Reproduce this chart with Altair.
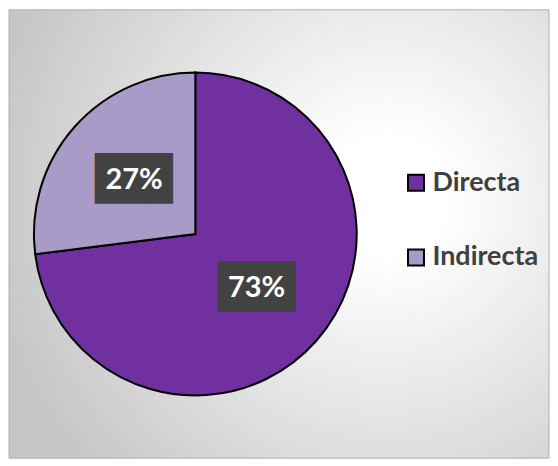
import altair as alt
import pandas as pd

categories = ["Directa", "Indirecta"]
values = [73, 27]
labels = ["73%", "27%"]
order = [0, 1]
colors = ["#7030A0", "#A99BC7"]

df = pd.DataFrame({"cat": categories, "value": values, "label": labels, "ord": order})

W, H = 542, 450
CX, CY = 187, 225

gradient = alt.RadialGradient(
    gradient="radial",
    stops=[alt.GradientStop(color="#ffffff", offset=0),
           alt.GradientStop(color="#ffffff", offset=0.15),
           alt.GradientStop(color="#c6c6c6", offset=1)],
    x1=0.70, y1=0.43, r1=0, x2=0.70, y2=0.43, r2=0.75,
)

bg = alt.Chart(pd.DataFrame({"a": [0]})).mark_rect(
    fill=gradient, stroke="#b0b0b0", strokeWidth=1
).encode(x=alt.value(0), x2=alt.value(W), y=alt.value(0), y2=alt.value(H))

base = alt.Chart(df).encode(
    theta=alt.Theta("value:Q", stack=True),
    order=alt.Order("ord:Q"),
)

arc = base.mark_arc(radius=162, stroke="black", strokeWidth=2).encode(
    x=alt.value(CX), y=alt.value(CY),
    color=alt.Color(
        "cat:N",
        scale=alt.Scale(domain=categories, range=colors),
        legend=alt.Legend(
            orient="none", legendX=395, legendY=160, title=None,
            symbolType="square", symbolSize=256, symbolStrokeColor="black",
            symbolStrokeWidth=2, symbolOpacity=1,
            labelFont="Lato", labelFontSize=27, labelFontWeight="bold",
            labelColor="#404040", rowPadding=47, labelOffset=3,
        ),
    ),
)

boxes = base.mark_text(
    radius=82, font="DejaVu Sans Mono", fontSize=43, color="#424242", baseline="middle"
).encode(x=alt.value(CX), y=alt.value(CY), text=alt.value("\u2588\u2588\u2588"))

text = base.mark_text(
    radius=82, font="Lato", fontWeight="bold", fontSize=29, color="white", baseline="middle"
).encode(x=alt.value(CX), y=alt.value(CY), text="label:N")

chart = alt.layer(bg, arc, boxes, text).properties(
    width=W, height=H, padding=0
).configure_view(stroke=None)

chart.save("out.html", embed_options={"renderer": "svg", "actions": False})
